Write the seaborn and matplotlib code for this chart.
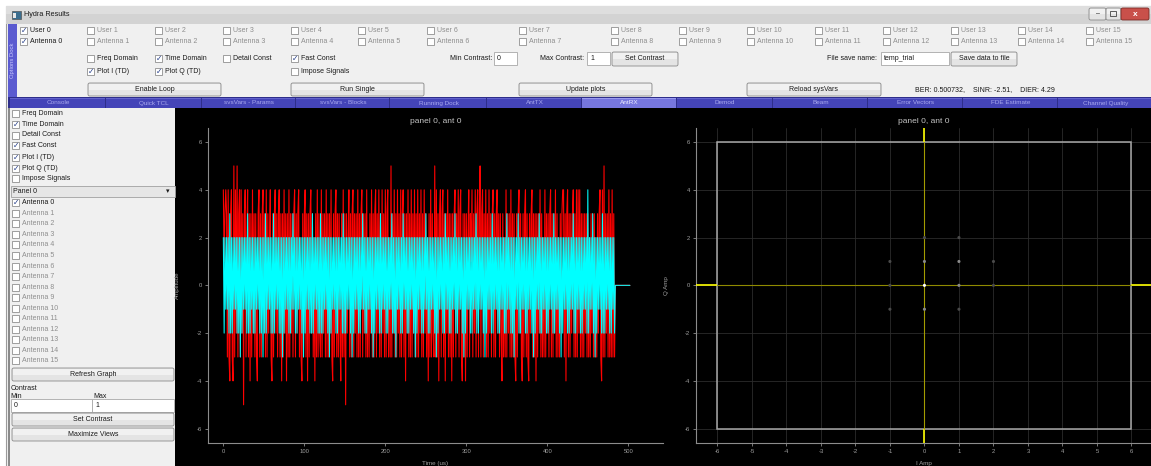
import numpy as np
import pandas as pd
import matplotlib
matplotlib.use("Agg")
import matplotlib.pyplot as plt
import seaborn as sns
from matplotlib.patches import Rectangle, FancyBboxPatch

# ---------------- data ----------------
sample_period_us = 1.0

# In-phase samples (red trace)
i_trace = [
    4, 1, 3, 4, 3, -3, 4, -3, -4, 3, 4, -3, -4, 5, -3, 4, -2, 5, -3, 3,
    4, -3, 4, -2, 3, -5, 3, 4, -3, 2, 4, -3, 3, -4, 3, -3, 4, -2, 3, -3,
    3, -3, -4, 3, 4, -3, 3, -3, 3, 4, -2, 3, -3, 4, -3, 3, -2, 2, 4, -3,
    -4, 3, -3, 3, 4, -2, 3, -3, 3, 4, -3, 3, -4, 3, -3, 4, -2, 3, -4, 3,
    -3, 4, -3, 3, -2, 3, -3, 3, 4, -3, 3, -2, 3, 4, -3, 2, -3, -4, 3, -3,
    3, 4, -3, 3, -4, 3, -3, 3, 4, -2, 3, -3, 2, -4, 3, -3, 4, -3, 3, -2,
    -3, 4, -3, 3, -2, 3, -3, 4, -3, 3, -3, 3, -2, 4, -3, -4, 3, -3, 3, 4,
    -3, 3, -3, 3, -2, -4, 3, -3, 4, -3, 3, -5, 3, -2, 2, 4, -3, 3, -3, 3,
    4, -3, 3, -2, 3, -3, 4, -3, 3, -3, 3, 4, -3, 3, -2, 3, -3, 4, -3, 2,
    -3, 3, -2, 4, -3, 3, -3, 3, 4, -3, 3, -2, 4, -3, 3, -3, 4, -2, 3, -3,
    4, -3, 3, 4, -3, 2, -3, 5, -3, 3, -2, 4, -3, 3, -3, 4, -2, 3, -3, 4,
    -3, 3, 4, -3, 3, -4, 3, -2, 4, -3, 3, -3, 4, -3, 3, -2, 4, -3, 3, -3,
    4, -3, 3, -2, 4, -3, 3, -3, 4, -2, 3, -3, 2, -4, 3, -3, 4, -3, 3, -2,
    -3, 5, -3, 4, -3, 3, -4, 3, 4, -3, 3, 4, -3, 3, -4, 3, -2, 4, -3, 3,
    -3, 3, -4, 3, -3, 3, 4, -3, 3, -2, 4, -3, 3, 4, -3, -4, 3, -3, 3, -4,
    3, -3, 2, 4, -3, 3, 1, 4, -3, 3, -2, 4, -3, 3, 4, -3, 3, 5, -3, 3,
    4, -3, 3, -2, 4, -3, 3, -3, 4, -2, 3, -3, 3, 4, -3, 3, -3, 3, 4, -2,
    3, -3, 3, -2, -4, 3, -3, 2, -3, 4, -3, 3, -2, 3, -3, 4, -3, 3, -3, 3,
    -3, -4, 3, -3, 3, 4, -2, 3, -3, -4, 3, -3, 3, 4, -3, 3, -3, -4, 3, -2,
    3, 4, -3, 3, -3, 3, -4, 3, -3, 3, -2, 4, -3, 3, -3, 2, -3, 4, -3, 3,
    -2, 3, -3, 3, 4, -3, 3, -3, 3, -2, 4, -3, 3, -3, 2, -3, 3, -2, 3, 4,
    4, -3, 3, -4, 3, 4, -3, 3, -3, 3, -2, 3, 4, -3, 3, -3, 4, -3, 4, -2,
    4, -3, 3, -3, 3, -3, 3, -2, 3, -3, 3, -3, 2, -3, 3, -2, 3, -3, 3, -3,
    2, -3, 3, -2, 3, 4, -3, -4, 4, -3, 5, -3, 3, -2, 3, -3, 4, -3, 3, -3,
    4, -3, 3, -3, 0, 0, 0, 0, 0, 0, 0, 0, 0, 0, 0, 0, 0, 0, 0, 0,
    0, 0, 0,
]

# Quadrature samples (cyan trace)
q_trace = [
    2, -2, 2, -1, 2, -1, 2, -2, 3, -2, 2, -2, 2, -1, 2, -1, 2, -2, 2, -2,
    2, -3, 2, -2, 2, -1, 2, -1, 2, -2, 3, -2, 2, -2, 2, -1, 2, -2, 2, -2,
    2, -1, 2, -1, 2, -2, 2, -2, 2, -3, 2, -2, 3, -2, 2, -1, 2, -1, 2, -2,
    2, -2, 3, -2, 2, -1, 2, -1, 2, -2, 2, -2, 2, -3, 2, -2, 2, -1, 2, -1,
    2, -2, 2, -2, 2, -1, 3, -1, 2, -2, 2, -2, 2, -1, 2, -1, 2, -2, 2, -3,
    2, -2, 2, -1, 2, -1, 2, -2, 2, -2, 3, -2, 2, -1, 2, -1, 2, -2, 2, -2,
    3, -2, 2, -2, 2, -1, 2, -1, 2, -2, 2, -3, 2, -2, 2, -1, 2, -1, 2, -2,
    2, -2, 2, -1, 2, -1, 2, -2, 3, -2, 2, -2, 2, -1, 2, -1, 2, -2, 2, -3,
    2, -2, 2, -1, 2, -1, 2, -2, 2, -2, 2, -1, 3, -1, 2, -2, 2, -2, 2, -1,
    2, -1, 2, -2, 2, -3, 2, -2, 2, -1, 2, -1, 2, -2, 3, -2, 2, -1, 2, -1,
    2, -2, 2, -2, 2, -1, 2, -1, 3, -2, 2, -2, 2, -3, 2, -1, 2, -1, 2, -2,
    2, -2, 3, -1, 2, -1, 2, -2, 2, -2, 2, -1, 2, -1, 2, -2, 2, -3, 2, -2,
    2, -1, 2, -1, 2, -2, 2, -2, 2, -1, 3, -1, 2, -2, 2, -2, 2, -1, 2, -1,
    2, -2, 2, -3, 2, -2, 2, -1, 2, -1, 2, -2, 2, -2, 3, -1, 2, -1, 2, -2,
    2, -2, 2, -1, 2, -1, 3, -2, 2, -2, 2, -1, 2, -1, 2, -2, 2, -3, 2, -2,
    2, -1, 2, -1, 2, -2, 2, -2, 2, -1, 2, -1, 3, -2, 2, -2, 2, -1, 2, -1,
    2, -2, 2, -3, 2, -2, 2, -1, 2, -1, 2, -2, 3, -2, 2, -1, 2, -1, 2, -2,
    2, -2, 2, -1, 2, -1, 2, -2, 2, -2, 3, -1, 2, -1, 2, -2, 2, -2, 2, -3,
    2, -1, 2, -1, 3, -2, 2, -2, 2, -1, 2, -1, 2, -2, 2, -2, 2, -1, 2, -1,
    2, -2, 2, -3, 2, -2, 2, -1, 2, -1, 3, -2, 2, -2, 2, -1, 2, -1, 2, -2,
    2, -2, 2, -1, 2, -1, 2, -2, 3, -2, 2, -1, 2, -1, 2, -2, 2, -3, 2, -2,
    2, -1, 2, -1, 2, -2, 2, -2, 2, -1, 2, -1, 3, -2, 2, -2, 2, -1, 2, -1,
    2, -2, 2, -2, 2, -1, 2, -1, 2, -2, 4, -2, 2, -1, 2, -1, 3, -2, 2, -3,
    2, -2, 2, -1, 2, -1, 2, -2, 3, -2, 2, -2, 2, -1, 2, -1, 2, -2, 2, -2,
    2, -1, 2, -2, 0, 0, 0, 0, 0, 0, 0, 0, 0, 0, 0, 0, 0, 0, 0, 0,
    0, 0, 0,
]

# Constellation points (I, Q) and their brightness class
const_i = [0, 1, 0, 1, 0, 1, -1, 2, -1, 2, -1, 0, 1]
const_q = [0, 0, 1, 1, 2, 2, 1, 1, 0, 0, -1, -1, -1]
const_level = ["bright", "mid", "mid", "mid", "faint", "faint", "faint",
               "faint", "faint", "faint", "faint", "mid", "faint"]

users = [f"User {k}" for k in range(16)]
antennas = [f"Antenna {k}" for k in range(16)]
tab_names = ["Console", "Quick TCL", "svsVars - Params", "svsVars - Blocks",
             "Running Dock", "AntTX", "AntRX", "Demod", "Beam",
             "Error Vectors", "FDE Estimate", "Channel Quality"]
status_text = "BER: 0.500732,    SINR: -2.51,    DIER: 4.29"

# ---------------- figure ----------------
W, H = 1151, 466
sns.set_theme(style="dark")
plt.rcParams["font.family"] = ["Liberation Sans", "DejaVu Sans"]
plt.rcParams["axes.unicode_minus"] = False

fig = plt.figure(figsize=(W / 100, H / 100), dpi=100, facecolor="white")
bg = fig.add_axes([0, 0, 1, 1])
bg.set_xlim(0, W)
bg.set_ylim(H, 0)
bg.axis("off")

FS = 5.0
TXT = "#1a1a1a"
DIS = "#8e8e8e"
WIN = "#f0f0f0"


def rect(x0, y0, x1, y1, fc, ec="none", lw=0.7, z=1):
    bg.add_patch(Rectangle((x0, y0), x1 - x0, y1 - y0, facecolor=fc,
                           edgecolor=ec, linewidth=lw, zorder=z))


def label(x, y, s, color=TXT, ha="left", size=FS, **kw):
    bg.text(x, y, s, color=color, ha=ha, va="center", fontsize=size, zorder=5, **kw)


def checkbox(x, y, text, checked=False, enabled=True):
    rect(x, y - 3.5, x + 7, y + 3.5, "white", ec="#8f8f8f", lw=0.6, z=3)
    if checked:
        bg.text(x + 3.6, y + 0.2, "\u2713", color="#27408b", ha="center", va="center",
                fontsize=5.5, family=["DejaVu Sans"], zorder=6)
    label(x + 10, y, text, color=TXT if enabled else DIS)


def button(x0, y0, x1, y1, text):
    bg.add_patch(FancyBboxPatch((x0, y0), x1 - x0, y1 - y0,
                                boxstyle="round,pad=0,rounding_size=1.8",
                                facecolor="#e4e4e4", edgecolor="#8a8a8a",
                                linewidth=0.6, zorder=3))
    rect(x0 + 1, y0 + 1, x1 - 1, (y0 + y1) / 2, "#f1f1f1", z=3.5)
    label((x0 + x1) / 2, (y0 + y1) / 2, text, ha="center")


def textbox(x0, y0, x1, y1, text):
    rect(x0, y0, x1, y1, "white", ec="#a8a8a8", lw=0.6, z=3)
    label(x0 + 3, (y0 + y1) / 2, text)


# window frame and title bar
rect(6, 6, W + 2, H + 2, WIN, ec="#9a9a9a", lw=0.8, z=0.5)
rect(6, 6, W + 2, 24, "#d3d3d3", z=1)
rect(6, 6, W + 2, 14, "#dedede", z=1.1)
rect(12, 11, 21, 19, "#3b6e8f", ec="#555555", lw=0.5, z=2)
rect(13.5, 12.5, 16.5, 17.5, "#e8e8e8", z=2.1)
label(24, 15, "Hydra Results", size=5.2)
button(1089, 8, 1106, 20, "")
label(1097.5, 14, "\u2013", ha="center", size=5)
button(1106, 8, 1121, 20, "")
bg.add_patch(Rectangle((1110.5, 11), 6, 5, facecolor="none", edgecolor="#444444", lw=0.6, zorder=6))
bg.add_patch(FancyBboxPatch((1121, 8), 28, 12, boxstyle="round,pad=0,rounding_size=1.8",
                            facecolor="#c9504a", edgecolor="#7a2a25", linewidth=0.6, zorder=3))
label(1135, 14, "x", color="white", ha="center", size=6, weight="bold")

# options dock
rect(8, 24, 17, 97, "#5b5bd0", z=2)
bg.text(12.5, 60, "Options Dock", rotation=90, color="#c9c9ff", ha="center",
        va="center", fontsize=4.2, zorder=5)

user_x = [20, 87, 155, 223, 291, 358, 427, 519, 611, 679, 747, 815, 883, 951, 1018, 1086]
for k, x in enumerate(user_x):
    checkbox(x, 30.5, users[k], checked=(k == 0), enabled=(k == 0))
    checkbox(x, 41.5, antennas[k], checked=(k == 0), enabled=(k == 0))

for x, y, text, chk in [(87, 58.5, "Freq Domain", False), (155, 58.5, "Time Domain", True),
                        (223, 58.5, "Detail Const", False), (291, 58.5, "Fast Const", True),
                        (87, 71.5, "Plot I (TD)", True), (155, 71.5, "Plot Q (TD)", True),
                        (291, 71.5, "Impose Signals", False)]:
    checkbox(x, y, text, checked=chk)

label(492, 59, "Min Contrast:", ha="right")
textbox(494, 52, 517, 65, "0")
label(584, 59, "Max Contrast:", ha="right")
textbox(587, 52, 610, 65, "1")
button(612, 52, 678, 66, "Set Contrast")
label(877, 59, "File save name:", ha="right")
textbox(881, 52, 949, 65, "temp_trial")
button(951, 52, 1017, 66, "Save data to file")

button(88, 83, 221, 96, "Enable Loop")
button(291, 83, 424, 96, "Run Single")
button(519, 83, 652, 96, "Update plots")
button(747, 83, 881, 96, "Reload sysVars")
label(915, 90, status_text)

# tab bar
tab_edges = [10, 106, 202, 296, 390, 487, 582, 677, 773, 868, 963, 1058, 1153]
rect(8, 97, W + 2, 108, "#2e2e8a", z=1.5)
for k, name in enumerate(tab_names):
    x0, x1 = tab_edges[k], tab_edges[k + 1]
    active = name == "AntRX"
    rect(x0 + 0.5, 98, x1 - 0.5, 108, "#7676de" if active else "#4444b8", z=2)
    rect(x0 + 0.5, 98, x1 - 0.5, 99, "#9a9af0" if active else "#6262cc", z=2.1)
    label((x0 + x1) / 2, 103, name, ha="center", size=4.6,
          color="#ececff" if active else "#a9a9ee")

# plot background
rect(175, 108, W + 2, H + 2, "black", z=1.5)

# left side panel
rect(8, 108, 175, H + 2, WIN, z=1.5)
rect(8, 108, 10.5, H + 2, "#8a8a8a", z=1.6)
panel_opts = [("Freq Domain", False), ("Time Domain", True), ("Detail Const", False),
              ("Fast Const", True), ("Plot I (TD)", True), ("Plot Q (TD)", True),
              ("Impose Signals", False)]
panel_y = [113.7, 124.3, 135.0, 145.7, 157.3, 168.0, 178.7]
for (text, chk), y in zip(panel_opts, panel_y):
    checkbox(12, y, text, checked=chk)
rect(11, 186, 175, 197, "#e6e6e6", ec="#a0a0a0", lw=0.6, z=3)
label(13, 191.5, "Panel 0")
label(168, 191.5, "\u25be", ha="center", size=5, family=["DejaVu Sans"])
for k, name in enumerate(antennas):
    checkbox(12, 202.7 + 10.55 * k, name, checked=(k == 0), enabled=(k == 0))
button(12, 368, 174, 381, "Refresh Graph")
label(10.5, 388, "Contrast")
label(10.5, 396, "Min")
label(93, 396, "Max")
textbox(11, 399, 92, 412, "0")
textbox(92, 399, 174, 412, "1")
button(12, 413, 174, 426, "Set Contrast")
button(12, 428, 174, 441, "Maximize Views")


# ---------------- plot axes ----------------
def axes_at(x0, y0, x1, y1):
    return fig.add_axes([x0 / W, 1 - y1 / H, (x1 - x0) / W, (y1 - y0) / H])


AX_C = "#8c8c8c"
TICK_C = "#a0a0a0"
TITLE_C = "#c4c4c4"


def style_axes(ax):
    ax.set_facecolor("black")
    for side in ("top", "right"):
        ax.spines[side].set_visible(False)
    for side in ("left", "bottom"):
        ax.spines[side].set_color(AX_C)
        ax.spines[side].set_linewidth(0.8)
    ax.tick_params(colors=AX_C, labelcolor=TICK_C, labelsize=4.2, length=2.5,
                   width=0.6, direction="out", pad=1.5, left=True, bottom=True)


# time domain plot
ax1 = axes_at(207.7, 127.7, 663, 443)
style_axes(ax1)
td = pd.DataFrame({
    "Time (us)": np.arange(len(i_trace)) * sample_period_us,
    "I": i_trace,
    "Q": q_trace,
})
sns.lineplot(data=td, x="Time (us)", y="I", ax=ax1, color="#ff0000",
             linewidth=0.8, estimator=None, zorder=2)
sns.lineplot(data=td, x="Time (us)", y="Q", ax=ax1, color="#00ffff",
             linewidth=0.75, estimator=None, zorder=3)
ax1.set_xlim(-19.3, 542.8)
ax1.set_ylim(-6.6, 6.6)
ax1.set_xticks([0, 100, 200, 300, 400, 500])
ax1.set_yticks([-6, -4, -2, 0, 2, 4, 6])
ax1.grid(False)
ax1.set_title("panel 0, ant 0", color=TITLE_C, fontsize=6, pad=3.5)
ax1.set_xlabel("Time (us)", color=TICK_C, fontsize=4.5, labelpad=5)
ax1.set_ylabel("Amplitude", color=TICK_C, fontsize=4.5, labelpad=12)

# constellation plot
ax2 = axes_at(696, 127.7, 1151.5, 443)
style_axes(ax2)
ax2.set_xlim(-6.62, 6.58)
ax2.set_ylim(-6.6, 6.6)
ax2.set_xticks(range(-6, 7))
ax2.set_yticks([-6, -4, -2, 0, 2, 4, 6])
ax2.grid(True, color="#2c2c2c", linewidth=0.6)
ax2.set_axisbelow(True)
ax2.add_patch(Rectangle((-6, -6), 12, 12, facecolor="none", edgecolor="#a8a8a8",
                        linewidth=1.1, zorder=3))
# reference axes: bright outside the frame, dimmed inside
ax2.hlines(0, -6.62, -6, color="#ffff00", linewidth=1.2, zorder=4)
ax2.hlines(0, 6, 6.58, color="#ffff00", linewidth=1.2, zorder=4)
ax2.hlines(0, -6, 6, color="#8f8a00", linewidth=0.8, zorder=4)
ax2.vlines(0, 6, 6.6, color="#ffff00", linewidth=1.2, zorder=4)
ax2.vlines(0, -6.6, -6, color="#ffff00", linewidth=1.2, zorder=4)
ax2.vlines(0, -6, 6, color="#a39c00", linewidth=0.8, zorder=4)
cd = pd.DataFrame({"I Amp": const_i, "Q Amp": const_q, "level": const_level})
sns.scatterplot(data=cd, x="I Amp", y="Q Amp", hue="level", ax=ax2,
                palette={"bright": "#ffffff", "mid": "#8a8a8a", "faint": "#4a4a4a"},
                s=5, linewidth=0, legend=False, zorder=5)
ax2.set_title("panel 0, ant 0", color=TITLE_C, fontsize=6, pad=3.5)
ax2.set_xlabel("I Amp", color=TICK_C, fontsize=4.5, labelpad=5)
ax2.set_ylabel("Q Amp", color=TICK_C, fontsize=4.5, labelpad=12)

fig.savefig("out.png", dpi=100, facecolor="white")
